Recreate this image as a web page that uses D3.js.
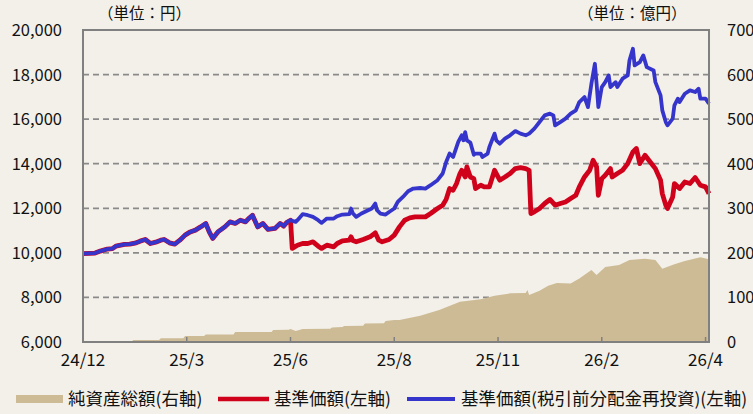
<!DOCTYPE html>
<html>
<head>
<meta charset="utf-8">
<script src="https://cdn.jsdelivr.net/npm/d3@7"></script>
<style>
  body { margin: 0; background: #f3f0e9; }
  svg text { font-family: "Noto Sans CJK JP", "Liberation Sans", sans-serif; fill: #111; }
</style>
</head>
<body>
<div id="chart-area"></div>
<script>
const W = 753, H = 414
const MARGIN = { LEFT: 83, RIGHT: 44, TOP: 30, BOTTOM: 72 }
const WIDTH = W - MARGIN.LEFT - MARGIN.RIGHT
const HEIGHT = H - MARGIN.TOP - MARGIN.BOTTOM

// x = business-day index from 24/12
const xTicks = [0, 60, 120, 180, 240, 300, 360]
const xLabels = ["24/12", "25/3", "25/6", "25/8", "25/11", "26/2", "26/4"]
const leftTicks = [6000, 8000, 10000, 12000, 14000, 16000, 18000, 20000]
const rightTicks = [0, 100, 200, 300, 400, 500, 600, 700]

// 基準価額(税引前分配金再投資) [day, 円]
const navReinv = [
  [0,9970],[7,9990],[10,10080],[14,10170],[17,10190],[19,10300],[24,10380],[27,10390],[30,10435],
  [33,10525],[36,10600],[39,10420],[42,10480],[45,10570],[47,10600],[50,10450],[53,10390],[56,10570],
  [59,10795],[62,10940],[65,11020],[68,11165],[71,11320],[73,10940],[75,10645],[78,10940],[82,11165],
  [85,11390],[88,11320],[91,11465],[94,11390],[96,11555],[98,11690],[101,11165],[104,11320],[107,11050],
  [111,11095],[114,11320],[116,11200],[118,11375],[120,11465],[123,11390],[124,11465],[127,11735],
  [130,11690],[133,11615],[136,11465],[138,11345],[141,11540],[145,11540],[147,11645],[150,11720],
  [154,11735],[155,11990],[156,11780],[158,11615],[161,11765],[164,11880],[167,11990],[169,12215],
  [170,11915],[172,11765],[175,11720],[177,11835],[180,11990],[182,12285],[185,12510],[188,12765],
  [191,12885],[195,12910],[198,12885],[201,13035],[205,13260],[208,13560],[210,14080],[212,14455],
  [214,14300],[215,14525],[217,14975],[219,15275],[220,15050],[221,15420],[222,15050],[224,14950],
  [226,14400],[227,14455],[230,14455],[231,14300],[234,14455],[235,14750],[238,15350],[239,15050],
  [241,14900],[244,15125],[247,15275],[250,15465],[253,15350],[256,15275],[258,15350],[261,15575],
  [264,15870],[267,16170],[270,16245],[272,16170],[273,15720],[276,15870],[279,16020],[282,16245],
  [285,16395],[287,16765],[290,16990],[292,16540],[294,17590],[296,18485],[297,17590],[298,16540],
  [300,17440],[302,17660],[304,17960],[305,17440],[308,17660],[309,17440],[312,17815],[315,17960],
  [316,18630],[318,19160],[319,18410],[322,18555],[324,18860],[326,18335],[330,18185],[331,17660],
  [334,17065],[335,16395],[337,15870],[338,15720],[341,16020],[342,16620],[344,16920],[345,16765],
  [348,17140],[351,17290],[354,17215],[356,17365],[357,16920],[360,16920],[362,16695]
]

// 基準価額 [day, 円]
const nav = [
  [0,9970],[7,9990],[10,10080],[14,10170],[17,10190],[19,10300],[24,10380],[27,10390],[30,10435],
  [33,10525],[36,10600],[39,10420],[42,10480],[45,10570],[47,10600],[50,10450],[53,10390],[56,10570],
  [59,10795],[62,10940],[65,11020],[68,11165],[71,11320],[73,10940],[75,10645],[78,10940],[82,11165],
  [85,11390],[88,11320],[91,11465],[94,11390],[96,11555],[98,11690],[101,11165],[104,11320],[107,11050],
  [111,11095],[114,11320],[116,11200],[118,11375],[120,11465],[121,10200],[124,10345],[127,10420],
  [130,10420],[133,10495],[136,10300],[138,10200],[141,10345],[145,10270],[147,10420],[150,10540],
  [154,10570],[155,10720],[156,10550],[158,10495],[162,10600],[166,10720],[169,10900],[171,10570],
  [173,10495],[177,10600],[180,10795],[183,11165],[186,11465],[189,11570],[192,11615],[195,11615],
  [198,11615],[201,11765],[205,11990],[208,12140],[210,12400],[212,12885],[214,12810],[216,13110],
  [218,13560],[219,13705],[221,13405],[222,13855],[224,13405],[226,13330],[227,12885],[230,13035],
  [232,12960],[235,12960],[238,13705],[241,13260],[244,13405],[247,13560],[250,13780],[253,13825],
  [256,13780],[258,13705],[259,11765],[261,11840],[264,11990],[267,12215],[270,12395],[273,12140],
  [276,12215],[279,12285],[282,12440],[285,12585],[287,12960],[290,13405],[293,13705],[295,14155],
  [297,13855],[298,12585],[300,13330],[302,13480],[305,13780],[306,13405],[309,13560],[312,13705],
  [315,14005],[318,14525],[320,14680],[322,14005],[325,14380],[328,14075],[331,13780],[334,13260],
  [335,12660],[337,12140],[338,11990],[341,12510],[342,13110],[345,12885],[348,13180],[351,13110],
  [354,13380],[357,13035],[360,12960],[362,12660]
]

// 純資産総額 [day, 億円]
const assets = [
  [0,0],[28,0],[29,4.5],[44,4.5],[45,8.3],[58,8.3],[59,13.4],[70,13.4],[71,16.8],[87,16.8],[88,22.4],
  [109,22.4],[110,26.9],[119,27.5],[120,29.1],[123,24.6],[127,29.1],[143,29.5],[144,32.5],[150,33.5],
  [151,35.8],[162,36.5],[163,41.4],[174,42],[175,47],[180,49.3],[183,49.3],[195,58.9],[206,71.7],
  [218,90.3],[230,95.7],[238,103.8],[247,109.1],[256,109.8],[257,116.5],[258,105.3],[264,114.9],
  [269,126.1],[274,132.2],[282,131.5],[287,142.7],[294,161.3],[297,150.1],[302,168],[310,172.5],
  [316,183.7],[325,186.6],[331,183.7],[335,164.2],[342,174.7],[348,181.5],[357,190.4],[362,185.9]
]

const svg = d3.select("#chart-area").append("svg")
  .attr("width", W)
  .attr("height", H)
  .style("background", "#f3f0e9")

const g = svg.append("g")
  .attr("transform", `translate(${MARGIN.LEFT},${MARGIN.TOP})`)

const x = d3.scaleLinear().domain([0, 362]).range([0, WIDTH])
const yL = d3.scaleLinear().domain([6000, 20000]).range([HEIGHT, 0])
const yR = d3.scaleLinear().domain([0, 700]).range([HEIGHT, 0])

// grid
g.selectAll(".grid").data(leftTicks.slice(1, -1)).join("line")
  .attr("x1", 0).attr("x2", WIDTH)
  .attr("y1", d => yL(d)).attr("y2", d => yL(d))
  .attr("stroke", "#8a8a8a").attr("stroke-width", 1.8)
  .attr("stroke-dasharray", "6,4")

// assets area
g.append("path").datum(assets)
  .attr("fill", "#cdbb95")
  .attr("d", d3.area().x(d => x(d[0])).y0(HEIGHT).y1(d => yR(d[1])))

const line = d3.line().x(d => x(d[0])).y(d => yL(d[1]))
g.append("path").datum(nav)
  .attr("fill", "none").attr("stroke", "#d0021b").attr("stroke-width", 4.8)
  .attr("stroke-linejoin", "round")
  .attr("d", line)
g.append("path").datum(navReinv)
  .attr("fill", "none").attr("stroke", "#3535cc").attr("stroke-width", 3.8)
  .attr("stroke-linejoin", "round")
  .attr("d", line)

// frame
g.append("rect").attr("width", WIDTH).attr("height", HEIGHT)
  .attr("fill", "none").attr("stroke", "#808080").attr("stroke-width", 2)

// x ticks (inside)
g.selectAll(".xt").data(xTicks).join("line")
  .attr("x1", d => x(d)).attr("x2", d => x(d))
  .attr("y1", HEIGHT).attr("y2", HEIGHT - 5)
  .attr("stroke", "#808080").attr("stroke-width", 1.5)

g.selectAll(".xl").data(xTicks).join("text")
  .attr("x", d => x(d)).attr("y", HEIGHT + 24)
  .attr("text-anchor", "middle").attr("font-size", 17)
  .text((d, i) => xLabels[i])

g.selectAll(".yl").data(leftTicks).join("text")
  .attr("x", -21).attr("y", d => yL(d)).attr("dy", "0.36em")
  .attr("text-anchor", "end").attr("font-size", 16.5)
  .text(d => d3.format(",")(d))

g.selectAll(".yr").data(rightTicks).join("text")
  .attr("x", WIDTH + 18).attr("y", d => yR(d)).attr("dy", "0.36em")
  .attr("text-anchor", "start").attr("font-size", 16.5)
  .text(d => d)

svg.append("text").attr("x", 98).attr("y", 19).attr("font-size", 15.5).text("（単位：円）")
svg.append("text").attr("x", 578).attr("y", 19).attr("font-size", 15.5).text("（単位：億円）")

// legend
const lg = svg.append("g").attr("transform", "translate(0,399)")
lg.append("rect").attr("x", 16).attr("y", -4).attr("width", 47).attr("height", 8).attr("fill", "#cdbb95")
lg.append("text").attr("x", 68).attr("y", 0).attr("dy", "0.36em").attr("font-size", 17.5).text("純資産総額(右軸)")
lg.append("line").attr("x1", 218).attr("x2", 269).attr("stroke", "#d0021b").attr("stroke-width", 4.5)
lg.append("text").attr("x", 274).attr("y", 0).attr("dy", "0.36em").attr("font-size", 17.5).text("基準価額(左軸)")
lg.append("line").attr("x1", 407).attr("x2", 455).attr("stroke", "#3535cc").attr("stroke-width", 4)
lg.append("text").attr("x", 461).attr("y", 0).attr("dy", "0.36em").attr("font-size", 17.5).text("基準価額(税引前分配金再投資)(左軸)")
</script>
</body>
</html>
